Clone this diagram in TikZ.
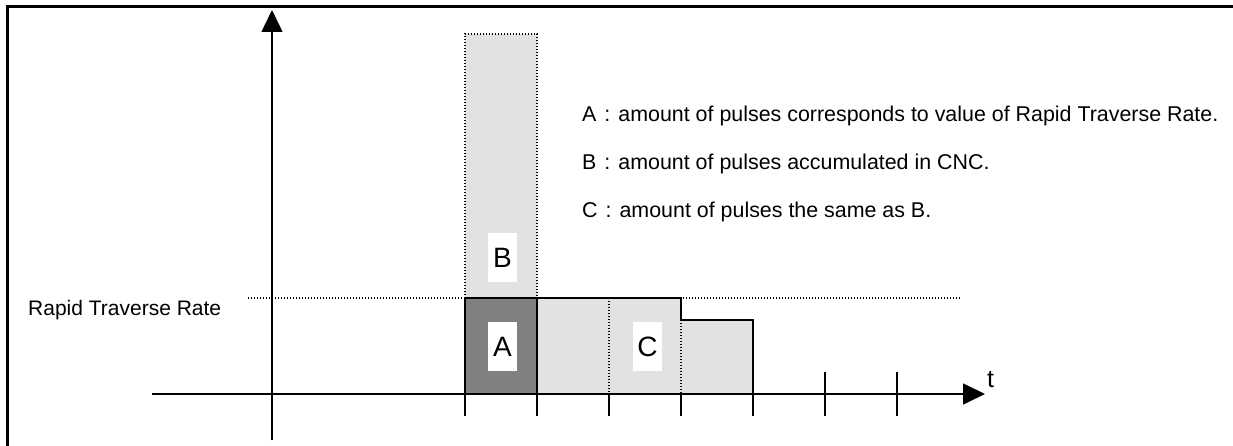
\documentclass[tikz,border=0pt]{standalone}
\usepackage{fontspec}
\setmainfont{Liberation Sans}
\usetikzlibrary{arrows.meta, positioning}
\definecolor{barlight}{RGB}{226,226,226}
\definecolor{bardark}{RGB}{128,128,128}
\definecolor{inkdark}{RGB}{0,0,0}
\tikzset{
  borderline/.style={line width=3pt, color=inkdark},
  axisarrow/.style={-{Triangle[width=21pt, length=22pt]}, line width=1.5pt, color=inkdark},
  tickmark/.style={line width=1.5pt, color=inkdark},
  lightbar/.style={fill=barlight},
  darkbar/.style={fill=bardark, draw=inkdark, line width=1.3pt},
  solidedge/.style={line width=1.3pt, color=inkdark},
  dotline/.style={line width=1.3pt, dash pattern=on 1.2pt off 1.8pt, color=inkdark},
  letterbox/.style={rectangle, fill=white, inner sep=0pt,
    minimum width=29pt, minimum height=49pt, font=\fontsize{28}{30}\selectfont},
  note/.style={anchor=base west, inner sep=0pt, font=\fontsize{21.4}{24}\selectfont}
}
\begin{document}
\begin{tikzpicture}[x=1pt, y=-1pt]
  \useasboundingbox (0,0) rectangle (1233,446);

  % Frame
  \draw[borderline] (7,446) -- (7,7) -- (1233,7);

  % Axes
  \coordinate (yfoot) at (272,440);
  \coordinate (ytip) at (272,10);
  \coordinate (xfoot) at (152,394);
  \coordinate (xtip) at (985,394);
  \foreach \tx in {465,537,609,681,753,825,897}
    \draw[tickmark] (\tx,372) -- (\tx,416);
  \draw[axisarrow] (yfoot) -- (ytip);
  \draw[axisarrow] (xfoot) -- (xtip);
  \node[note, font=\fontsize{25}{27}\selectfont] (tlabel) at (987,387) {t};

  % Rapid Traverse Rate level
  \draw[dotline] (248,298) -- (960,298);
  \node[note, font=\fontsize{21}{24}\selectfont] (rtr) at (28,315) {Rapid Traverse Rate};

  % Pulse bars
  \fill[lightbar] (465,34) rectangle (537,298);
  \draw[dotline] (465,298) -- (465,34) -- (537,34) -- (537,298);
  \draw[darkbar] (465,298) rectangle (537,394);
  \fill[lightbar] (537,394) -- (537,298) -- (681,298) -- (681,320) -- (753,320) -- (753,394) -- cycle;
  \draw[solidedge] (537,394) -- (537,298) -- (681,298) -- (681,320) -- (753,320) -- (753,394);
  \draw[dotline] (609,298) -- (609,394);
  \draw[dotline] (681,320) -- (681,394);
  \draw[line width=1.5pt] (537,394) -- (753,394);

  % Bar labels
  \node[letterbox] (lblB) at (502.5,257.5) {B};
  \node[letterbox] (lblA) at (502.5,346.5) {A};
  \node[letterbox] (lblC) at (647.5,346.5) {C};

  % Legend
  \node[note] (noteA) at (582,122) {A\hspace{8pt}:\hspace{8pt}amount of pulses corresponds to value of Rapid Traverse Rate.};
  \node[note] (noteB) at (582,170) {B\hspace{8pt}:\hspace{8pt}amount of pulses accumulated in CNC.};
  \node[note] (noteC) at (582,218) {C\hspace{8pt}:\hspace{8pt}amount of pulses the same as B.};
\end{tikzpicture}
\end{document}
